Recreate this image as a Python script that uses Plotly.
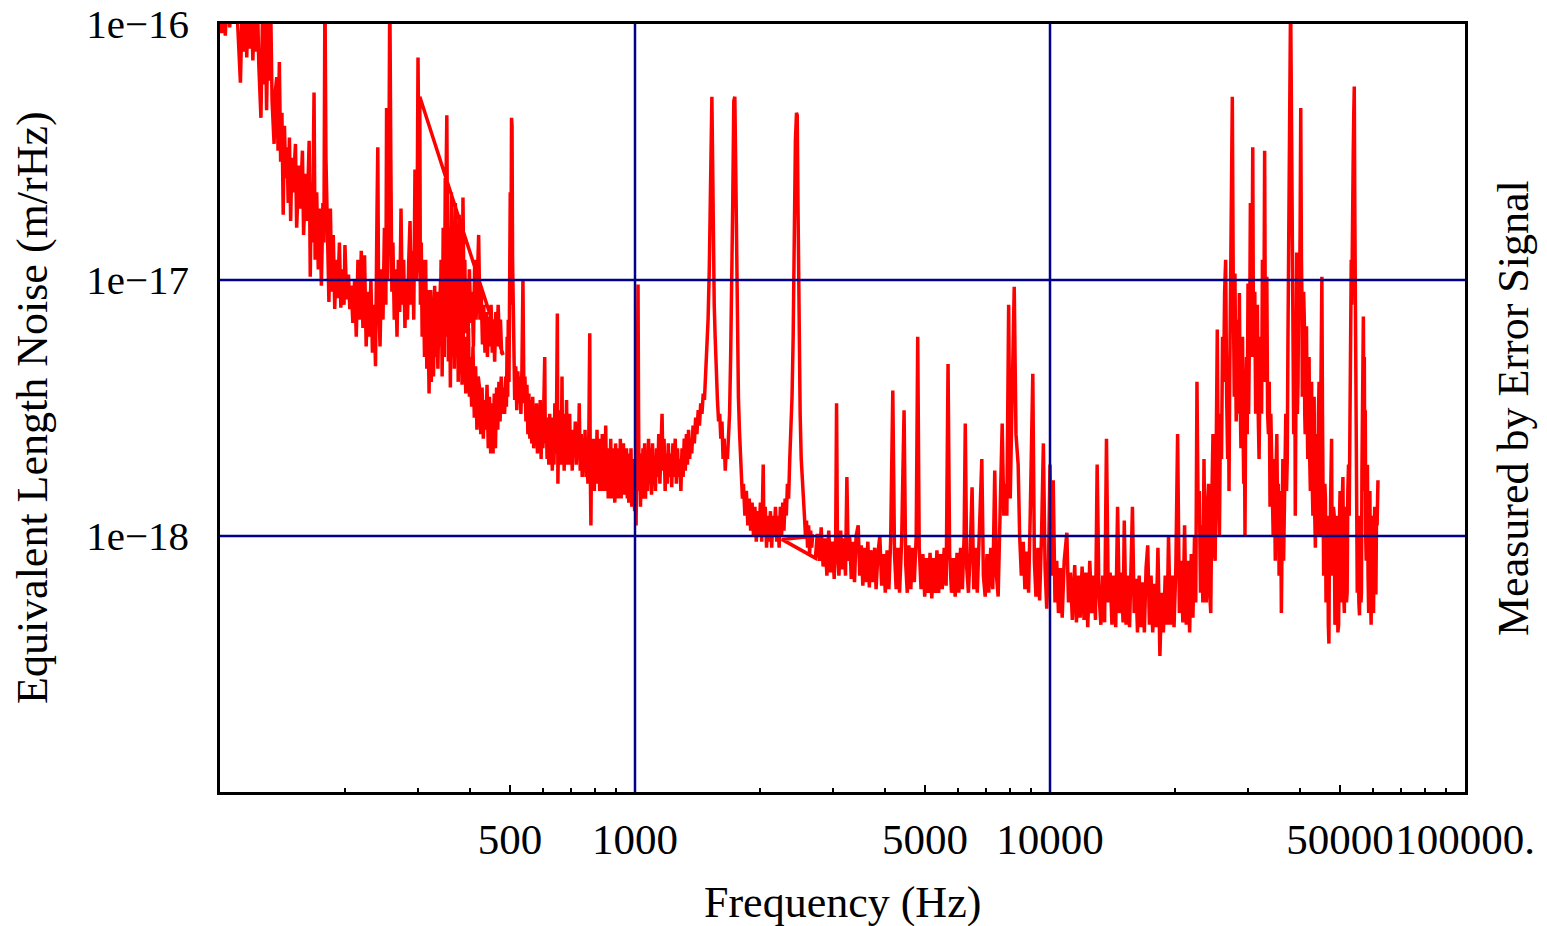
import plotly.graph_objects as go

# Equivalent length noise, in units of 1e-18 m/rHz, three measurement spans
segment_a = [(100,130),(101,92),(102,125),(103,90),(104,140),(105.5,97),(107,130),(108,100),(109,150),(110.5,95),
(112,59),(113,110),(114,78),(115,160),(116,74),(117,130),(118,80),(119,140),(120,72),(121,115),(122,78),(123,130),
(124,70),(125.5,43),(126.5,100),(127.5,58),(128.5,120),(129.5,46),(130.5,105),(131.5,60),(132.5,115),(133.5,50),
(135,34),(136,55),(137,62),(138,32),(139,71),(140,29),(141,45),(142,18),(143,40),(144,25),(145,33),(146,20),(147,36),
(148,17),(149,30),(150,22),(152,34),(153,16),(155,28),(156,19),(158,32),(159,15),(161,26),(162,17),(164,35),(165,10.3),
(166,24),(167,14),(168.5,54),(169.5,12),(171,22),(172.5,11),(174,19),(175.5,9.5),(177,20),(178,14),(179,140),(180,30),
(181.5,12),(183,8.2),(184.5,19),(186,9),(187.5,15),(189,7.7),(190.5,12),(192,8.5),(194,14),(195.5,7.8),(197,11),(199,8),
(200,13.7),(202,8.4),(204,10.5),(205.5,7.7),(207,9.5),(209,6.8),(211,10),(213,6.0),(215,12),(217,7.0),(219,13),(221,6.5),
(223,12.5),(225,5.5),(227,9),(229,6),(231,10),(233,5.2),(235,8),(237,4.6),(239,19),(240,33),(241,9),(243,5.5),(245,11),
(247,7),(249,16),(251,8),(252,47),(253.5,10),(255,18),(256.5,140),(258,30),(259.5,9),(261,14),(263,7),(265,11),(267,6),
(269,12),(271,7.5),(273,19),(275,8),(277,12),(279,6.5),(281,10),(283,7),(285,12),(287,17),(289,8),(291,13),(293,7),
(295,27),(297,10),(298.5,16),(300,74),(301.5,16),(303,11),(305,8),(307,12),(310,7),(313,9.5),(316,6.3),(319,9),(322,9),
(325,6),(328,8),(331,5.5),(334,9),(337,6.5),(340,10),(343,7),(346,12),(348,6),(350,20),(352,44),(353.5,12),(355,7),
(357,16),(359,8),(361,22),(363,9),(365,17),(367,7.5),(369,20),(371,10),(373,15),(375,6.5),(377,18),(379,9),(381,14),
(383,6),(385,21),(387,9),(389,12),(391,6.2),(393,10),(396,6),(399,11),(402,6.8),(405,9),(408,5.5),(411,12),(414,7),
(417,10),(420,15),(423,7),(426,9),(429,5.6),(432,8),(435,5.2),(438,7.5),(441,5.0),(444,7.2),(447,5.5),(450,8),(453,5.2),
(456,7),(459,4.8),(462,7.5),(465,5.5),(468,8),(471,6),(474,7),(477,5.2),(481,5.1)]

segment_b = [(303,52),(304,8),(305.5,14),(307,6),(309,10),(311,5),(313,12),(315,4.5),(317,7.5),(319,3.6),(321,9),(323,4),
(325,7),(327,4.2),(329,9.5),(331,5),(333,7),(335,4.5),(337,8),(339,5.5),(341,12),(343,4.2),(345,16),(347,5),(349,25),
(351,6),(353,19),(355,4.8),(357,13),(359,3.8),(361,10),(363,5),(365,14),(367,4.5),(369,9),(371,5.5),(373,12),(375,4),
(377,8),(379,4.3),(381,9),(383,3.9),(385,7),(387,4.5),(389,6),(391,3.6),(393,5.5),(395,3.8),(397,6.5),(399,3.5),(401,5),
(404,3.2),(407,5.5),(410,2.9),(413,4.6),(416,2.6),(419,4.2),(422,3.8),(425,2.5),(428,3.8),(431,2.4),(434,3.4),(437,2.6),
(440,3.9),(443,2.2),(446,3.5),(449,2.1),(452,3.3),(455,2.1),(458,3.6),(461,2.2),(464,3.8),(467,2.6),(470,4.0),(473,2.8),
(476,4.2),(479,3.0),(482,3.8),(485,3.0),(488,4.2),(490,3.2),(492,6),(493.5,3.5),(495,7),(497,4.0),(499,9),(500.5,22),
(502,8),(504,43),(505.5,40),(507,12),(510,5),(513,3.4),(516,4.6),(519,3.1),(522,4.4),(525,3.3),(528,4.2),(531,3.0),
(534,4.5),(537,10),(540,3.3),(543,4.2),(546,2.8),(549,3.9),(552,2.5),(555,3.6),(558,2.4),(561,3.4),(564,2.3),(567,3.5),
(570,2.2),(573,3.2),(576,2.4),(579,3.3),(582,2.1),(585,3.0),(588,2.2),(591,3.4),(594,2.0),(597,3.1),(600,2.2),(603,3.0),
(606,5.0),(608,2.3),(611,2.9),(614,2.0),(617,2.8),(620,1.9),(623,3.0),(626,2.0),(629,2.7),(632,1.8),(635,2.9),(638,1.9),
(641,3.3),(644,2.1),(647,3.0),(650,7.4),(652,1.6),(655,2.8),(658,2.0),(661,3.1),(664,1.9),(667,4.2),(669,2.0),(672,3.0),
(675,1.8),(678,2.8),(681,2.0),(684,3.4),(687,1.9),(690,2.7),(693,2.1),(696,3.0),(699,1.9),(702,2.5),(706,1.8),(710,2.6),
(714,2.1),(718,2.8),(722,1.9),(726,2.4),(730,2.0),(734,3.3),(738,1.8),(742,2.5),(746,1.7),(750,2.3),(754,1.8),(758,2.6),
(762,1.7),(766,2.4),(770,1.6),(774,2.5),(778,6.2),(780,1.9),(783,1.1),(786,2.2),(790,1.6),(794,2.4),(798,1.5),(802,2.3),
(806,1.7),(810,2.6),(814,1.6),(818,2.4),(822,1.5),(826,2.2),(830,1.7),(834,2.5),(838,1.5),(842,2.3),(846,1.6),(850,2.7),
(854,1.5),(858,2.2),(862,1.4),(866,2.1),(870,1.6),(874,2.4),(878,1.4),(882,2.2),(886,1.5),(890,2.0),(894,1.35),(898,2.3),
(902,1.5),(906,2.1),(910,1.4),(914,2.2),(918,1.5),(922,2.4),(926,1.4),(930,2.0),(934,1.6),(938,2.3),(942,1.45),(946,2.1),
(950,1.5),(954,2.2),(958,1.4),(962,2.0),(966,1.35),(970,2.1),(974,1.5),(978,2.2),(982,1.3),(986,1.9),(990,1.4),(994,2.0),
(998,1.25),(1002,1.8),(1006,1.1),(1010,2.0),(1014,3.5),(1017,9.6),(1020,3.0),(1023,1.5),(1027,2.1),(1031,1.3),(1035,2.0),
(1040,1.4),(1045,2.2),(1050,1.5),(1055,2.3),(1060,1.4),(1066,2.1),(1072,1.5),(1078,2.4),(1084,1.6),(1090,2.2),(1096,1.45),
(1102,2.3),(1108,1.6),(1114,2.0),(1120,1.5),(1127,2.2),(1134,1.7),(1141,2.5),(1148,1.6),(1155,2.2),(1162,3.0),(1168,1.8),
(1175,2.4),(1182,1.5),(1189,2.1),(1196,1.6),(1203,2.3),(1210,1.7),(1218,2.1),(1226,1.55),(1234,2.3),(1242,1.7),(1250,2.4),
(1258,1.6),(1266,2.2),(1274,1.7),(1282,2.0),(1290,1.5),(1298,2.2),(1306,1.7),(1314,2.4),(1322,1.8),(1330,2.5),(1338,1.9),
(1346,2.6),(1354,2.0),(1362,2.4),(1370,2.1),(1380,2.7),(1390,2.3),(1400,2.9),(1410,2.5),(1420,3.1),(1430,2.7),(1440,3.3),
(1450,3.0),(1460,3.6),(1470,3.4),(1480,4.4),(1490,5.0),(1500,7.0),(1510,11),(1518,25),(1525,50),(1532,52),(1538,30),
(1545,12),(1552,8.0),(1560,6.0),(1570,4.2),(1580,3.4),(1590,2.8),(1600,3.0),(1610,2.4),(1620,2.8),(1630,2.0),(1640,2.4),
(1650,1.8),(1660,2.2),(1670,2.0),(1680,2.6),(1690,3.0),(1700,5.0),(1710,9.0),(1720,20),(1730,50),(1740,52),(1750,25),
(1758,10),(1765,5.0),(1775,3.5),(1785,2.6),(1795,2.0),(1805,1.7),(1815,1.4),(1825,1.6),(1840,1.2),(1855,1.5),(1870,1.1),
(1885,1.4),(1900,1.05),(1915,1.35),(1930,1.0),(1945,1.3),(1960,0.95),(1975,1.25),(1990,1.0),(2005,1.35),(2020,0.95),
(2037,1.9),(2045,1.0),(2060,1.3),(2075,0.9),(2090,1.2),(2105,0.95),(2120,1.25),(2135,0.9),(2150,1.2),(2165,1.0),(2180,1.3),
(2195,0.95),(2210,1.2),(2225,0.9),(2240,1.3),(2255,1.0),(2270,1.35),(2285,1.05),(2300,1.4),(2315,1.2),(2330,1.6),
(2345,1.4),(2360,2.0),(2375,2.5),(2390,3.5),(2405,6.0),(2420,15),(2435,35),(2450,45),(2460,44),(2470,20),(2480,7.0),
(2490,4.5),(2500,3.0),(2515,2.0),(2530,1.6),(2545,1.3),(2560,1.2),(2575,1.0),(2590,1.15),(2605,0.9),(2620,1.1),
(2635,0.85),(2650,1.05),(2665,0.9),(2680,1.0),(2700,1.0)]

segment_c = [(2260,0.97),(2720,0.82),(2750,1.02),(2780,0.8),(2810,1.08),(2840,0.76),(2870,0.98),(2900,0.7),(2930,1.05),
(2960,0.72),(2990,0.95),(3020,0.68),(3045,1.0),(3060,3.3),(3075,0.9),(3100,0.7),(3130,1.05),(3160,0.74),(3190,0.98),
(3215,0.7),(3240,1.7),(3265,0.8),(3290,1.0),(3320,0.68),(3350,0.95),(3380,0.66),(3410,1.0),(3450,1.1),(3480,0.7),
(3510,0.92),(3540,0.64),(3570,0.9),(3600,0.66),(3640,0.95),(3670,0.63),(3700,0.88),(3740,0.66),(3780,0.9),(3810,0.62),
(3850,0.86),(3890,1.0),(3930,0.64),(3970,0.85),(4010,0.6),(4050,0.88),(4090,0.62),(4130,0.95),(4180,3.7),(4220,0.85),
(4260,0.62),(4300,0.9),(4340,0.6),(4390,0.95),(4450,3.1),(4490,0.78),(4530,0.6),(4570,0.92),(4620,0.62),(4660,0.9),
(4710,0.66),(4760,1.0),(4800,6.0),(4840,0.9),(4890,0.62),(4940,0.85),(4990,0.58),(5040,0.82),(5090,0.6),(5140,0.86),
(5190,0.57),(5240,0.82),(5290,0.6),(5340,0.88),(5390,0.6),(5450,0.85),(5500,0.62),(5560,0.9),(5620,0.64),(5680,4.7),
(5730,0.85),(5790,0.6),(5850,0.82),(5910,0.58),(5970,0.86),(6030,0.6),(6090,0.9),(6150,0.62),(6210,1.0),(6250,2.75),
(6300,0.75),(6360,0.6),(6420,0.85),(6490,1.55),(6550,0.62),(6610,0.9),(6680,0.6),(6750,0.95),(6850,2.0),(6910,0.7),
(6980,0.58),(7050,0.85),(7120,0.6),(7200,0.9),(7280,0.62),(7360,1.8),(7430,0.7),(7500,0.58),(7570,1.0),(7670,2.75),
(7740,1.2),(7800,1.6),(7870,1.2),(7950,8.0),(8020,1.4),(8100,3.0),(8200,9.4),(8280,2.5),(8380,1.9),(8450,1.0),(8530,0.7),
(8620,0.95),(8700,0.62),(8800,0.87),(8880,0.6),(8960,1.2),(9090,4.3),(9170,0.8),(9250,0.58),(9350,0.9),(9440,0.56),
(9540,1.0),(9640,2.3),(9730,0.75),(9820,0.52),(9920,0.8),(10000,1.9),(10100,0.7),(10180,1.65),(10280,0.55),(10380,0.8),
(10480,0.5),(10590,0.75),(10700,0.48),(10820,0.8),(10980,1.03),(11080,0.55),(11200,0.72),(11320,0.47),(11470,0.77),
(11580,0.46),(11700,0.7),(11820,0.48),(11950,0.76),(12080,0.47),(12200,0.72),(12330,0.44),(12470,0.8),(12600,0.5),
(12750,0.7),(12870,0.47),(12990,1.9),(13120,0.6),(13260,0.45),(13400,0.7),(13540,0.46),(13680,2.4),(13820,0.55),
(13960,0.72),(14100,0.45),(14250,0.7),(14400,0.44),(14550,1.3),(14700,0.5),(14850,0.72),(15000,0.46),(15100,1.15),
(15250,0.45),(15400,0.7),(15550,0.44),(15700,0.8),(15800,1.3),(15950,0.5),(16100,0.68),(16250,0.42),(16400,0.7),
(16560,0.44),(16720,0.66),(16880,0.42),(17040,0.75),(17200,0.92),(17360,0.45),(17520,0.7),(17680,0.42),(17850,0.65),
(18020,0.44),(18200,0.9),(18400,0.34),(18580,0.6),(18760,0.42),(18950,0.7),(19150,0.45),(19300,1.0),(19500,0.45),
(19700,0.7),(19900,0.44),(20100,0.75),(20300,2.5),(20500,0.5),(20700,0.8),(20900,0.46),(21100,1.1),(21300,0.45),
(21500,0.8),(21700,0.42),(21900,0.85),(22100,0.48),(22300,1.0),(22450,0.55),(22600,4.0),(22750,1.2),(22900,1.5),
(23050,0.6),(23200,1.1),(23350,0.55),(23500,2.0),(23650,0.7),(23800,0.55),(23950,1.3),(24100,1.6),(24250,0.6),
(24400,0.5),(24550,1.4),(24700,2.5),(24850,0.9),(25000,0.8),(25150,2.2),(25300,6.4),(25450,1.6),(25600,1.0),(25750,3),
(25900,2.0),(26050,6),(26200,4.0),(26350,9),(26500,12),(26650,3.5),(26800,2.0),(26900,5),(27000,1.5),(27100,4),(27200,8),
(27350,30),(27500,52),(27650,9),(27800,3.5),(27900,10.6),(28000,4),(28100,2.8),(28230,6),(28350,7),(28480,3),(28600,8.9),
(28720,3.5),(28850,2.2),(28970,5),(29100,6),(29200,2.5),(29300,1.6),(29400,3),(29500,1.0),(29620,3.5),(29750,5),
(29870,2.5),(30000,9.7),(30100,3),(30200,4),(30300,8),(30400,20),(30500,5),(30600,6),(30700,12),(30800,33),(30900,8),
(31000,5),(31150,9),(31300,3.0),(31450,6),(31600,8),(31750,3),(31900,2.0),(32050,4),(32200,6),(32350,3),(32500,12),
(32600,4),(32700,5),(32800,10),(32900,32),(33000,9),(33100,4),(33200,7),(33300,10.3),(33450,3),(33600,2.5),(33750,4),
(33900,1.3),(34050,3),(34200,2.2),(34350,1.2),(34500,1.0),(34700,2.0),(34900,0.8),(35050,1.8),(35200,2.5),(35350,1.2),
(35500,1.6),(35650,0.7),(35800,0.9),(35950,1.5),(36100,0.5),(36250,1.3),(36400,2.0),(36550,0.8),(36700,1.2),(36850,2.5),
(37000,3.0),(37150,1.5),(37300,2.0),(37450,6),(37600,20),(37800,60),(38000,130),(38200,40),(38350,12),(38500,8),
(38650,2.5),(38800,3),(38900,6),(39000,1.2),(39150,5),(39300,12.8),(39450,3),(39600,4),(39750,10),(39900,8),(40050,15),
(40200,47),(40350,12),(40450,9),(40550,3.5),(40700,4),(40850,9),(41000,7),(41100,3),(41200,2.5),(41350,5),(41500,6.6),
(41650,3),(41800,2.0),(41950,4),(42100,5),(42250,2),(42400,1.5),(42550,3),(42700,4.0),(42850,1.6),(43000,1.2),(43150,3),
(43300,3.5),(43450,1.2),(43600,0.9),(43750,2.2),(43900,2.5),(44050,1.0),(44200,1.2),(44350,3),(44500,4),(44650,1.2),
(44800,1.0),(44900,3),(45000,6),(45100,4),(45200,10.3),(45350,3),(45500,1.5),(45650,0.7),(45800,0.8),(45950,1.6),
(46100,1.4),(46250,0.55),(46400,0.6),(46550,1.2),(46700,1.0),(46850,0.45),(47000,0.38),(47150,1.0),(47300,0.9),(47500,1.6),
(47700,2.4),(47850,0.8),(48000,0.7),(48200,1.3),(48400,1.2),(48600,0.45),(48800,0.5),(49000,1.2),(49200,1.0),(49400,0.42),
(49600,0.45),(49800,1.1),(50000,1.5),(50200,0.55),(50400,0.6),(50600,1.4),(50800,1.7),(51000,0.6),(51200,0.5),(51400,1.2),
(51600,1.3),(51800,0.55),(52000,0.6),(52200,1.5),(52400,1.9),(52600,1.2),(52800,3),(53000,5),(53200,12),(53350,8),
(53500,20),(53650,15),(53800,32),(53950,45),(54100,57),(54250,20),(54400,8),(54550,3),(54700,1.3),(54850,0.7),(55000,0.6),
(55150,1.2),(55300,1.1),(55500,0.55),(55700,0.49),(55850,1.2),(56000,1.0),(56150,0.55),(56300,0.6),(56450,1.8),
(56600,2.5),(56750,4),(56900,7.2),(57050,3),(57200,5),(57350,1.5),(57500,3.1),(57650,1.0),(57800,0.8),(58000,1.6),
(58200,1.9),(58400,0.7),(58600,0.5),(58800,1.2),(59000,1.5),(59200,0.6),(59400,0.45),(59600,1.1),(59800,1.2),
(60000,0.55),(60200,0.5),(60400,1.0),(60600,1.3),(60800,0.6),(61000,0.6),(61200,1.2),(61400,1.1),(61700,1.65)]

UNIT = 1e-18
x_tick_vals = [500, 1000, 5000, 10000, 50000, 100000]
x_tick_text = ["500", "1000", "5000", "10000", "50000", "100000."]
x_minor_vals = [200, 300, 400, 600, 700, 800, 900, 2000, 3000, 4000, 6000, 7000, 8000, 9000,
                20000, 30000, 40000, 60000, 70000, 80000, 90000]
y_tick_vals = [1e-16, 1e-17, 1e-18]
y_tick_text = ["1e\u221216", "1e\u221217", "1e\u221218"]
x_grid = [1000, 10000]
y_grid = [1e-17, 1e-18]

freqs, noise = [], []
for seg in (segment_a, segment_b, segment_c):
    for f, v in seg:
        freqs.append(f)
        noise.append(v * UNIT)

FONT = "Liberation Serif, Times New Roman, serif"

fig = go.Figure()
fig.add_trace(go.Scatter(x=freqs, y=noise, mode="lines",
                         line=dict(color="#ff0000", width=3.5), showlegend=False,
                         hoverinfo="skip"))

shapes = []
for g in x_grid:
    shapes.append(dict(type="line", xref="x", yref="paper", x0=g, x1=g, y0=0, y1=1,
                       line=dict(color="#00008b", width=2.5), layer="above"))
for g in y_grid:
    shapes.append(dict(type="line", xref="paper", yref="y", x0=0, x1=1, y0=g, y1=g,
                       line=dict(color="#00008b", width=2.5), layer="above"))

fig.update_layout(
    width=1547, height=926,
    margin=dict(l=220, r=82, t=24, b=134),
    paper_bgcolor="white", plot_bgcolor="white",
    font=dict(family=FONT, color="black"),
    shapes=shapes,
    xaxis=dict(type="log", range=[2, 5], showgrid=False, zeroline=False, automargin=False,
               showline=True, linecolor="black", linewidth=2.5, mirror=True,
               ticks="inside", ticklen=7, tickwidth=2, tickcolor="black",
               tickmode="array", tickvals=x_tick_vals, ticktext=x_tick_text, tickangle=0,
               tickfont=dict(family=FONT, size=43, color="black"),
               ticklabelstandoff=8, ticklabeloverflow="allow",
               minor=dict(tickmode="array", tickvals=x_minor_vals, ticks="inside",
                          ticklen=4, tickwidth=1.5, tickcolor="black", showgrid=False),
               layer="above traces"),
    yaxis=dict(type="log", range=[-19, -16], showgrid=False, zeroline=False, automargin=False,
               showline=True, linecolor="black", linewidth=2.5, mirror=True,
               ticks="inside", ticklen=8, tickwidth=2, tickcolor="black",
               tickmode="array", tickvals=y_tick_vals, ticktext=y_tick_text,
               tickfont=dict(family=FONT, size=41, color="black"),
               ticklabelstandoff=20, ticklabeloverflow="allow", layer="above traces"),
    annotations=[
        dict(text="Frequency (Hz)", xref="paper", yref="paper", x=0.5, y=0,
             xanchor="center", yanchor="middle", yshift=-110, showarrow=False,
             font=dict(family=FONT, size=44, color="black")),
        dict(text="Equivalent Length Noise (m/rHz)", xref="paper", yref="paper", x=0, y=0.5,
             xanchor="center", yanchor="middle", xshift=-188, textangle=-90, showarrow=False,
             font=dict(family=FONT, size=44, color="black")),
        dict(text="Measured by Error Signal", xref="paper", yref="paper", x=1, y=0.5,
             xanchor="center", yanchor="middle", xshift=48, textangle=-90, showarrow=False,
             font=dict(family=FONT, size=44, color="black")),
    ],
)

# remove the default page margin so the figure fills the window exactly
fig.write_html("out.html",
               config={"displayModeBar": False},
               post_script="document.body.style.margin='0';document.body.style.overflow='hidden';")
